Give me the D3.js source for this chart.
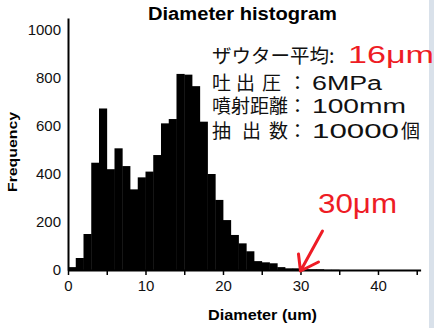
<!DOCTYPE html>
<html>
<head>
<meta charset="utf-8">
<script src="https://cdn.jsdelivr.net/npm/d3@7"></script>
<style>
  html, body { margin: 0; padding: 0; background: #fff; }
  svg { display: block; }
</style>
</head>
<body>
<div id="chart"></div>
<script>
// --- data ---
const binLower = [0, 1, 2, 3, 4, 5, 6, 7, 8, 9, 10, 11, 12, 13, 14, 15, 16, 17,
  18, 19, 20, 21, 22, 23, 24, 25, 26, 27, 28, 29, 30, 31, 32, 33, 34];
const counts = [12, 50, 150, 447, 673, 420, 507, 433, 336, 386, 410, 479, 611, 629,
  817, 814, 766, 618, 400, 292, 208, 146, 111, 78, 37, 32, 28, 12, 7, 7, 3, 3, 3, 1, 1];
const xTicks = [0, 5, 10, 15, 20, 25, 30, 35, 40, 45];
const xTickLabels = ["0", "", "10", "", "20", "", "30", "", "40", ""];
const yTicks = [0, 200, 400, 600, 800, 1000];

const infoLabels = ["吐出圧", "噴射距離", "抽出数"];
const infoValues = ["6MPa", "100mm", "10000"];
const infoUnits = ["", "", "個"];
const sauterLabel = "ザウター平均:";
const sauterValue = "16μm";
const markLabel = "30μm";
const markAt = 30;

// --- setup ---
const W = 434, H = 328;
const latin = "'Liberation Sans', Arial, Helvetica, sans-serif";
const cjk = "'Noto Sans CJK JP', sans-serif";
const red = "#ee1c25";

const svg = d3.select("#chart").append("svg")
  .attr("width", W).attr("height", H);

// light strip on the right edge
svg.append("rect")
  .attr("x", 429).attr("y", 0).attr("width", W - 429).attr("height", H)
  .attr("fill", "#d9e1ea");

const x = d3.scaleLinear().domain([0, 45.5]).range([68, 420.6]);
const y = d3.scaleLinear().domain([0, 1050]).range([270, 18]);

// bars
svg.append("g")
  .selectAll("rect")
  .data(binLower.map((b, i) => ({ b, c: counts[i] })))
  .join("rect")
  .attr("x", d => x(d.b))
  .attr("y", d => y(d.c))
  .attr("width", d => x(d.b + 1) - x(d.b) + 0.4)
  .attr("height", d => y(0) - y(d.c))
  .attr("fill", "#000");

// x axis
const xAxis = svg.append("g")
  .attr("transform", `translate(0,${y(0)})`)
  .call(d3.axisBottom(x).tickValues(xTicks)
    .tickFormat((d, i) => xTickLabels[i]).tickSize(5).tickSizeOuter(0).tickPadding(5));
xAxis.select(".domain").attr("stroke-width", 2);
xAxis.selectAll(".tick line").attr("stroke-width", 1.5);
xAxis.selectAll("text").attr("font-family", latin).attr("font-size", 15).attr("fill", "#111");

// y axis
const yAxis = svg.append("g")
  .attr("transform", `translate(${x(0)},0)`)
  .call(d3.axisLeft(y).tickValues(yTicks).tickFormat(d3.format("d"))
    .tickSize(0).tickSizeOuter(0).tickPadding(7));
yAxis.select(".domain").attr("stroke-width", 2);
yAxis.selectAll("text").attr("font-family", latin).attr("font-size", 15).attr("fill", "#111");

// titles
svg.append("text")
  .attr("x", 148).attr("y", 20)
  .attr("font-family", latin).attr("font-weight", "bold").attr("font-size", 18)
  .attr("textLength", 189).attr("lengthAdjust", "spacingAndGlyphs")
  .text("Diameter histogram");

svg.append("text")
  .attr("x", 208).attr("y", 320)
  .attr("font-family", latin).attr("font-weight", "bold").attr("font-size", 14)
  .attr("textLength", 109).attr("lengthAdjust", "spacingAndGlyphs")
  .text("Diameter (um)");

svg.append("text")
  .attr("transform", "translate(17,192) rotate(-90)")
  .attr("font-family", latin).attr("font-weight", "bold").attr("font-size", 13)
  .attr("textLength", 80).attr("lengthAdjust", "spacingAndGlyphs")
  .text("Frequency");

// info block
svg.append("text")
  .attr("x", 212).attr("y", 63)
  .attr("font-family", cjk).attr("font-size", 19.5).attr("fill", "#111")
  .text(sauterLabel);
svg.append("text")
  .attr("x", 348).attr("y", 63)
  .attr("font-family", latin).attr("font-size", 24).attr("fill", red)
  .attr("textLength", 86).attr("lengthAdjust", "spacingAndGlyphs")
  .text(sauterValue);

const lineY = [90, 113, 138];
// left edge of every label character (3-char labels are spread over 4 cells)
const labelX = [
  [212, 236, 262],
  [212, 231, 250, 269],
  [212, 242, 269]
];
const valueLen = [70, 94, 87];
infoLabels.forEach((lab, i) => {
  const row = svg.append("g");
  row.selectAll("text.lab")
    .data(Array.from(lab))
    .join("text")
    .attr("class", "lab")
    .attr("x", (c, j) => labelX[i][j]).attr("y", lineY[i])
    .attr("font-family", cjk).attr("font-size", 19).attr("fill", "#111")
    .text(c => c);
  row.append("text")
    .attr("x", 288).attr("y", lineY[i])
    .attr("font-family", cjk).attr("font-size", 19).attr("fill", "#111")
    .text("：");
  row.append("text")
    .attr("x", 312).attr("y", lineY[i])
    .attr("font-family", latin).attr("font-size", 20).attr("fill", "#111")
    .attr("textLength", valueLen[i]).attr("lengthAdjust", "spacingAndGlyphs")
    .text(infoValues[i]);
  if (infoUnits[i]) {
    row.append("text")
      .attr("x", 401).attr("y", lineY[i])
      .attr("font-family", cjk).attr("font-size", 19).attr("fill", "#111")
      .text(infoUnits[i]);
  }
});

// 30um marker
svg.append("text")
  .attr("x", 318).attr("y", 213)
  .attr("font-family", latin).attr("font-size", 28).attr("fill", red)
  .attr("textLength", 79).attr("lengthAdjust", "spacingAndGlyphs")
  .text(markLabel);

const tipX = x(markAt), tipY = y(0) + 1;
const arrow = d3.path();
arrow.moveTo(tipX + 22, tipY - 40);
arrow.lineTo(tipX, tipY);
arrow.moveTo(tipX - 2, tipY - 17);
arrow.lineTo(tipX, tipY);
arrow.lineTo(tipX + 18, tipY - 9);
svg.append("path")
  .attr("d", arrow.toString())
  .attr("fill", "none").attr("stroke", red)
  .attr("stroke-width", 3).attr("stroke-linecap", "round").attr("stroke-linejoin", "round");
</script>
</body>
</html>
